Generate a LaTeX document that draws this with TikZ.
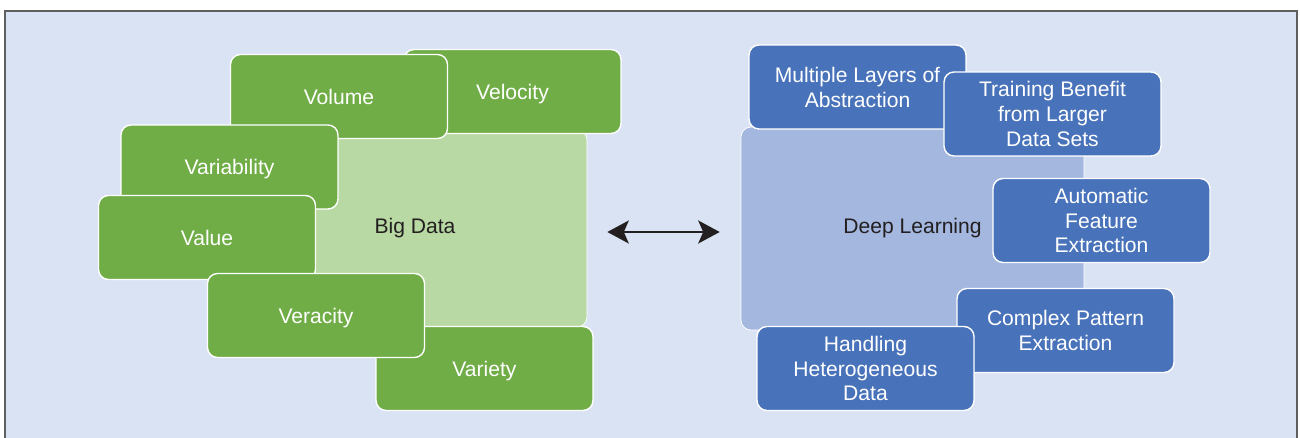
\documentclass[tikz,border=0pt]{standalone}
\usepackage{fontspec}
\setmainfont{Liberation Sans}
\usetikzlibrary{arrows.meta}

\definecolor{panel}{HTML}{DAE3F3}
\definecolor{framegray}{HTML}{5F5F5F}
\definecolor{vgreen}{HTML}{70AD47}
\definecolor{vlight}{HTML}{B8D9A3}
\definecolor{dblue}{HTML}{4872B9}
\definecolor{dlight}{HTML}{A3B7DF}
\definecolor{inktext}{HTML}{231F20}

\begin{document}
\begin{tikzpicture}[x=0.02cm, y=-0.02cm,
  every node/.style={shape=rectangle, rounded corners=0.2cm, draw=white, line width=0.8pt,
    align=center, font=\fontsize{12}{14.2}\selectfont},
  vbox/.style={fill=vgreen, text=white, text depth=0pt, minimum width=4.34cm, minimum height=1.68cm},
  dbox/.style={fill=dblue, text=white, minimum width=4.34cm, minimum height=1.68cm},
  core/.style={text=inktext, line width=0.4pt}]
\useasboundingbox (0,0) rectangle (1300,438);

% Panel
\fill[panel] (5,11) rectangle (1297,438);
\draw[framegray, line width=0.8pt] (5,438) -- (5,11) -- (1297,11) -- (1297,438);

% Big Data and its V's
\path (415,228.5)
node[core, fill=vlight, minimum width=6.88cm, minimum height=3.94cm] (bigdata) {Big Data}
(bigdata) +(97.5,-137) node[vbox] (velocity) {Velocity}
(bigdata) +(-76,-132) node[vbox] (volume) {Volume}
(bigdata) +(-185.5,-61.5) node[vbox] (variability) {Variability}
(bigdata) +(-208,9) node[vbox] (value) {Value}
(bigdata) +(69.5,140) node[vbox] (variety) {Variety}
(bigdata) +(-99,87) node[vbox] (veracity) {Veracity}
;

% Deep Learning and its features
\path (912.5,228.5)
node[core, fill=dlight, minimum width=6.86cm, minimum height=4.06cm] (deeplearn) {Deep Learning}
(deeplearn) +(-55,-141.5) node[dbox] (layers) {Multiple Layers of\\Abstraction}
(deeplearn) +(140,-114.5) node[dbox] (training) {Training Benefit\\from Larger\\Data Sets}
(deeplearn) +(189,-8) node[dbox] (feature) {Automatic\\Feature\\Extraction}
(deeplearn) +(153,102) node[dbox] (pattern) {Complex Pattern\\Extraction}
(deeplearn) +(-47,140) node[dbox] (hetero) {Handling\\Heterogeneous\\Data}
;

\draw[{Stealth[length=0.43cm, width=0.46cm, inset=0.1cm]}-{Stealth[length=0.43cm, width=0.46cm, inset=0.1cm]},
  line width=1.1pt, inktext, shorten <=0.4cm, shorten >=0.42cm]
  ([yshift=-0.07cm]bigdata.east) -- ([yshift=-0.07cm]deeplearn.west);

\end{tikzpicture}
\end{document}
